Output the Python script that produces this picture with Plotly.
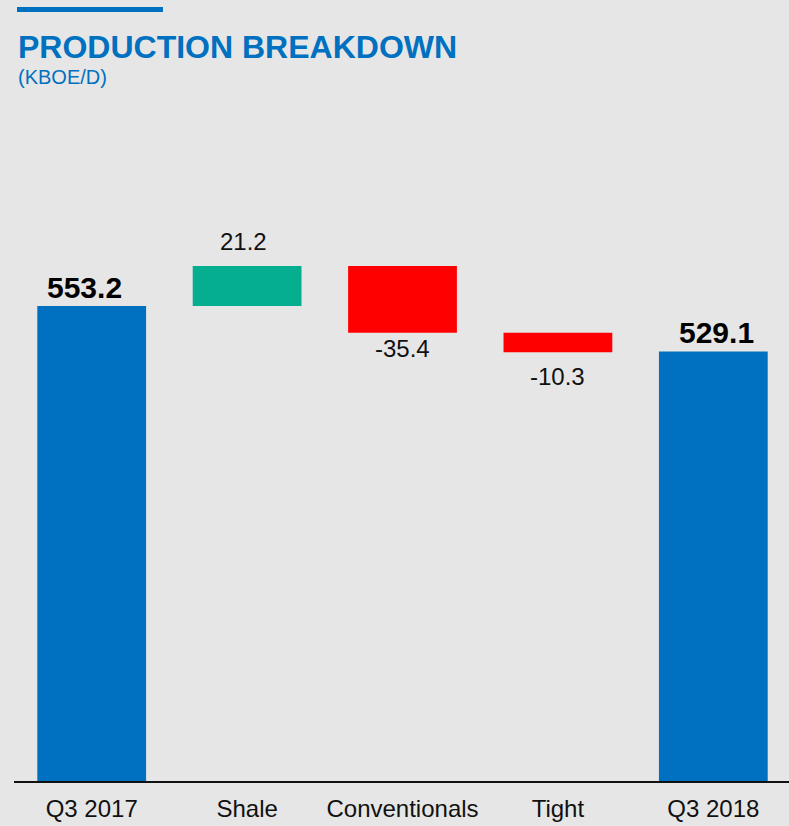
import plotly.graph_objects as go

# ---- data ----
categories = ["Q3 2017", "Shale", "Conventionals", "Tight", "Q3 2018"]
values = [553.2, 21.2, -35.4, -10.3, 529.1]
measures = ["absolute", "relative", "relative", "relative", "absolute"]
labels = ["553.2", "21.2", "-35.4", "-10.3", "529.1"]

BLUE = "#0070c0"
GREEN = "#05ae8f"
RED = "#ff0000"
BG = "#e6e6e6"
FONT = "Liberation Sans, Arial, sans-serif"

W, H = 789, 826
ML, MR, MT, MB = 14, 0, 100, 45

fig = go.Figure(go.Waterfall(
    x=categories,
    y=values,
    measure=measures,
    totals=dict(marker=dict(color=BLUE)),
    increasing=dict(marker=dict(color=GREEN)),
    decreasing=dict(marker=dict(color=RED)),
    connector=dict(visible=False),
    hoverinfo="skip",
    showlegend=False,
))

# compute bar extents to place labels
annotations = []
running = 0.0
for i, (cat, val, meas, lab) in enumerate(zip(categories, values, measures, labels)):
    if meas == "absolute":
        running = val
        annotations.append(dict(x=cat, y=val, text="<b>" + lab + "</b>", showarrow=False,
                                yanchor="middle", yshift=19, xshift=-7 if i == 0 else 3,
                                font=dict(family=FONT, size=30, color="#000000")))
    else:
        running = running + val
        if val >= 0:
            annotations.append(dict(x=cat, y=running, text=lab, showarrow=False,
                                    yanchor="middle", yshift=24, xshift=-4,
                                    font=dict(family=FONT, size=24, color="#111111")))
        else:
            shift = -16 if abs(val) > 20 else -24
            annotations.append(dict(x=cat, y=running, text=lab, showarrow=False,
                                    yanchor="middle", yshift=shift,
                                    font=dict(family=FONT, size=24, color="#111111")))

plot_h = H - MT - MB
plot_w = W - ML - MR

annotations.append(dict(xref="paper", yref="paper", x=0, y=1, xanchor="left", yanchor="middle",
                        xshift=2, yshift=53, showarrow=False,
                        text="<b>PRODUCTION BREAKDOWN</b>",
                        font=dict(family=FONT, size=32, color=BLUE)))
annotations.append(dict(xref="paper", yref="paper", x=0, y=1, xanchor="left", yanchor="middle",
                        xshift=2, yshift=23, showarrow=False,
                        text="(KBOE/D)",
                        font=dict(family=FONT, size=20, color=BLUE)))

fig.update_layout(
    width=W, height=H,
    margin=dict(l=ML, r=MR, t=MT, b=MB, pad=0),
    paper_bgcolor=BG, plot_bgcolor=BG,
    waterfallgap=0.30,
    xaxis=dict(range=[-0.5, 4.487], showline=True, linecolor="#111111", linewidth=2,
               showgrid=False, zeroline=False, ticks="", ticklabelstandoff=5,
               tickfont=dict(family=FONT, size=24, color="#111111")),
    yaxis=dict(range=[301.9, 662.2], visible=False, showgrid=False, zeroline=False),
    annotations=annotations,
    shapes=[dict(type="line", xref="paper", yref="paper",
                 x0=(17 - ML) / plot_w, x1=(163 - ML) / plot_w,
                 y0=1 + (MT - 9.5) / plot_h, y1=1 + (MT - 9.5) / plot_h,
                 line=dict(color=BLUE, width=5))],
)

fig.write_html("out.html", config={"displayModeBar": False},
               post_script="document.body.style.margin='0';document.body.style.overflow='hidden';")
